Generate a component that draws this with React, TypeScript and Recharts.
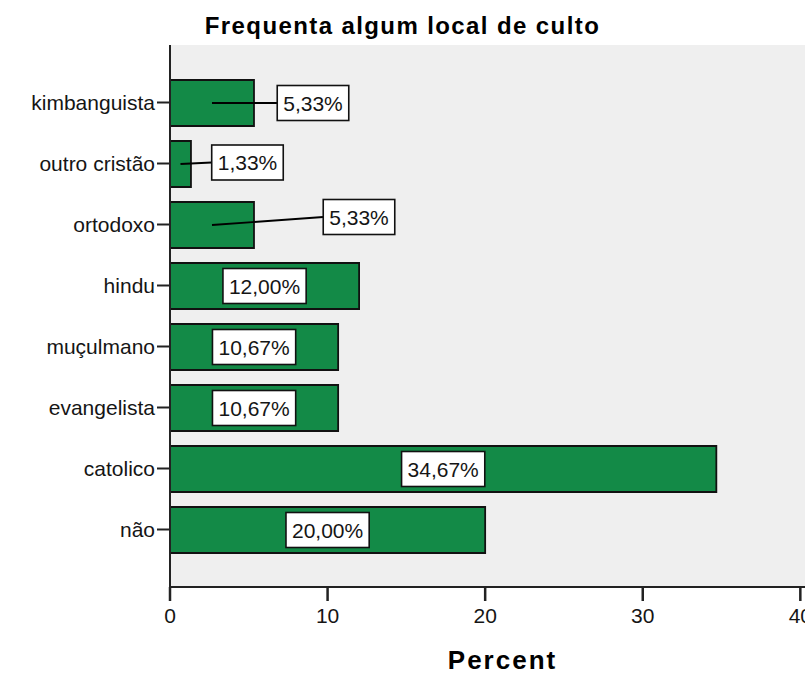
import React from 'react';
import { BarChart, Bar, XAxis, YAxis, CartesianGrid, LabelList } from 'recharts';

const categories = ['kimbanguista', 'outro cristão', 'ortodoxo', 'hindu', 'muçulmano', 'evangelista', 'catolico', 'não'];
const percents = [5.33, 1.33, 5.33, 12.0, 10.67, 10.67, 34.67, 20.0];
const xTicks = [0, 10, 20, 30, 40];
const title = 'Frequenta algum local de culto';
const axisTitle = 'Percent';

const data = categories.map((name, i) => ({ name, value: percents[i] }));

const FONT = '"Liberation Sans", Arial, Helvetica, sans-serif';
const INK = '#151515';

// label displacement (px) for small bars whose labels are pulled out with a leader line
const labelShift: Record<number, [number, number]> = {
  0: [101, 0],
  1: [67, -1.5],
  2: [147, -8],
};

const charW: Record<string, number> = { ',': 0.278, '%': 0.889 };
const textWidth = (s: string, size: number) =>
  s.split('').reduce((a, c) => a + (charW[c] ?? 0.556), 0) * size;

const fmt = (v: number) => v.toFixed(2).replace('.', ',') + '%';

const BoxLabel = (props: any) => {
  const { x, y, width, height, value, index } = props;
  const cx = Number(x) + Number(width) / 2;
  const cy = Number(y) + Number(height) / 2;
  const txt = fmt(Number(value));
  const fs = 21;
  const w = textWidth(txt, fs) + 12;
  const h = 35;
  const shift = labelShift[index];
  const bx = shift ? cx + shift[0] : cx;
  const by = shift ? cy + shift[1] : cy;
  return (
    <g>
      {shift && (
        <line x1={cx} y1={cy} x2={bx - w / 2} y2={by} stroke="#000" strokeWidth={1.8} />
      )}
      <rect x={bx - w / 2} y={by - h / 2} width={w} height={h} fill="#fff" stroke="#111" strokeWidth={1.6} />
      <text x={bx} y={by + 7.5} textAnchor="middle" fontFamily={FONT} fontSize={fs} fill={INK}>
        {txt}
      </text>
    </g>
  );
};

const AxisTitle = (props: any) => {
  const vb = props.viewBox || {};
  return (
    <text
      x={vb.x + vb.width / 2}
      y={669}
      textAnchor="middle"
      fontFamily={FONT}
      fontWeight="bold"
      fontSize={26}
      letterSpacing={2}
      fill="#000"
    >
      {axisTitle}
    </text>
  );
};

export default function App() {
  return (
    <div style={{ position: 'absolute', left: 0, top: 0, width: 805, height: 675, overflow: 'hidden', background: '#fff' }}>
      <div
        style={{
          position: 'absolute',
          left: 0,
          top: 14,
          width: 805,
          textAlign: 'center',
          fontFamily: FONT,
          fontWeight: 'bold',
          fontSize: 24,
          lineHeight: '24px',
          letterSpacing: 1.4,
          color: '#000',
        }}
      >
        {title}
      </div>
      <BarChart
        width={840}
        height={675}
        data={data}
        layout="vertical"
        margin={{ top: 45, right: 5, bottom: 0, left: 0 }}
        style={{ position: 'absolute', left: 0, top: 0 }}
      >
        <CartesianGrid fill="#efefef" horizontal={false} vertical={false} />
        <XAxis
          type="number"
          domain={[0, 42.2]}
          ticks={xTicks}
          allowDataOverflow
          height={88}
          tickSize={14}
          tickMargin={7}
          axisLine={{ stroke: '#222', strokeWidth: 2 }}
          tickLine={{ stroke: '#222', strokeWidth: 2.5 }}
          tick={{ fill: INK, fontSize: 21, fontFamily: FONT }}
          label={<AxisTitle />}
        />
        <XAxis
          xAxisId="top"
          orientation="top"
          type="number"
          domain={[0, 42.2]}
          height={0}
          tick={false}
          tickLine={false}
          axisLine={{ stroke: '#222', strokeWidth: 2 }}
        />
        <YAxis
          type="category"
          dataKey="name"
          width={170}
          tickSize={13}
          tickMargin={2}
          padding={{ top: 27, bottom: 27 }}
          interval={0}
          axisLine={{ stroke: '#222', strokeWidth: 2 }}
          tickLine={{ stroke: '#222', strokeWidth: 2 }}
          tick={{ fill: INK, fontSize: 21, fontFamily: FONT }}
        />
        <Bar dataKey="value" fill="#138a47" stroke="#111" strokeWidth={1.8} barSize={46} isAnimationActive={false}>
          <LabelList dataKey="value" content={<BoxLabel />} />
        </Bar>
      </BarChart>
    </div>
  );
}
